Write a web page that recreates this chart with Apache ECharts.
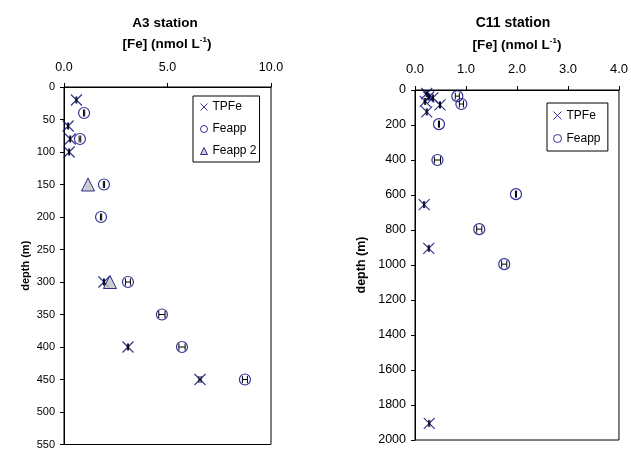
<!DOCTYPE html>
<html>
<head>
<meta charset="utf-8">
<script src="https://cdn.jsdelivr.net/npm/echarts@6/dist/echarts.min.js"></script>
<style>html,body{margin:0;padding:0;background:#fff}#c{width:631px;height:450px}</style>
</head>
<body>
<div id="c"></div>
<script>
// ---- A3 station data ----
const a3TpfeFe    = [0.6, 0.2, 0.3, 0.25, 1.93, 3.09, 6.57];
const a3TpfeDepth = [20, 60, 80, 100, 300, 400, 450];
const a3TpfeErr   = [0.02, 0.02, 0.02, 0.02, 0.02, 0.03, 0.05];
const a3FeappFe    = [0.97, 0.77, 1.93, 1.79, 3.09, 4.73, 5.7, 8.74];
const a3FeappDepth = [40, 80, 150, 200, 300, 350, 400, 450];
const a3FeappErr   = [0.03, 0.04, 0.03, 0.03, 0.12, 0.15, 0.15, 0.12];
const a3Feapp2Fe    = [1.16, 2.22];
const a3Feapp2Depth = [150, 300];
// ---- C11 station data ----
const c11TpfeFe    = [0.23, 0.27, 0.35, 0.2, 0.49, 0.23, 0.18, 0.27, 0.28];
const c11TpfeDepth = [20, 40, 45, 65, 85, 125, 655, 905, 1905];
const c11TpfeErr   = [0.01, 0.01, 0.01, 0.01, 0.01, 0.01, 0.01, 0.01, 0.01];
const c11FeappFe    = [0.83, 0.91, 0.47, 0.44, 1.98, 1.26, 1.75];
const c11FeappDepth = [35, 80, 195, 400, 595, 795, 995];
const c11FeappErr   = [0.04, 0.04, 0.01, 0.06, 0.01, 0.05, 0.05];

const NAVY = '#000080';
const FONT = 'Liberation Sans';
const XPATH = 'path://M0,0L10,10M10,0L0,10';

function pairs(xs, ys) { return xs.map((x, i) => [x, ys[i]]); }
function triples(xs, ys, es) { return xs.map((x, i) => [x, ys[i], es[i]]); }

function errRender(params, api) {
  const x = api.value(0), y = api.value(1), e = api.value(2);
  const p1 = api.coord([x - e, y]), p2 = api.coord([x + e, y]);
  const h = 3.5;
  const st = { stroke: '#000', lineWidth: 1 };
  return {
    type: 'group',
    children: [
      { type: 'line', shape: { x1: p1[0], y1: p1[1], x2: p2[0], y2: p2[1] }, style: st },
      { type: 'line', shape: { x1: p1[0], y1: p1[1] - h, x2: p1[0], y2: p1[1] + h }, style: st },
      { type: 'line', shape: { x1: p2[0], y1: p2[1] - h, x2: p2[0], y2: p2[1] + h }, style: st }
    ]
  };
}

function titleRich(fs) {
  return {
    a: { fontFamily: FONT, fontSize: fs, fontWeight: 'bold', color: '#000', lineHeight: 16 },
    s: { fontFamily: FONT, fontSize: 8, fontWeight: 'bold', color: '#000', lineHeight: 16, verticalAlign: 'top', padding: [0, 0, 6, 0] }
  };
}

function xAxisCfg(gi, max, interval, fs, margin) {
  return {
    type: 'value', gridIndex: gi, position: 'top', min: 0, max: max, interval: interval,
    axisLine: { show: true, lineStyle: { color: '#000', width: 1 } },
    axisTick: { show: true, length: 4, lineStyle: { color: '#000' } },
    axisLabel: { formatter: v => v.toFixed(1), margin: margin, fontFamily: FONT, fontSize: fs, color: '#000' },
    splitLine: { show: false }
  };
}
function yAxisCfg(gi, max, interval, gap, fs, margin) {
  return {
    type: 'value', gridIndex: gi, inverse: true, min: 0, max: max, interval: interval,
    name: 'depth (m)', nameLocation: 'middle', nameGap: gap, nameRotate: 90,
    nameTextStyle: { fontFamily: FONT, fontSize: fs, fontWeight: 'bold', color: '#000' },
    axisLine: { show: true, lineStyle: { color: '#000', width: 1 } },
    axisTick: { show: true, length: 4, lineStyle: { color: '#000' } },
    axisLabel: { formatter: v => String(v), margin: margin, fontFamily: FONT, fontSize: fs, color: '#000' },
    splitLine: { show: false }
  };
}

const xStyle = { color: 'none', borderColor: NAVY, borderWidth: 1.2 };
const oStyle = { color: 'none', borderColor: NAVY, borderWidth: 1.2 };
const tStyle = { color: '#c0c0c0', borderColor: NAVY, borderWidth: 1 };

const chart = echarts.init(document.getElementById('c'), null, { renderer: 'canvas' });
chart.setOption({
  animation: false,
  backgroundColor: '#fff',
  title: [
    { text: 'A3 station', left: 160, top: 11, textAlign: 'center',
      textStyle: { fontFamily: FONT, fontSize: 13.5, fontWeight: 'bold', color: '#000' } },
    { text: '{a|[Fe] (nmol L}{s|-1}{a|)}', left: 162, top: 31, textAlign: 'center',
      textStyle: { rich: titleRich(13.5) } },
    { text: 'C11 station', left: 508, top: 11, textAlign: 'center',
      textStyle: { fontFamily: FONT, fontSize: 14, fontWeight: 'bold', color: '#000' } },
    { text: '{a|[Fe] (nmol L}{s|-1}{a|)}', left: 512, top: 32, textAlign: 'center',
      textStyle: { rich: titleRich(13.5) } }
  ],
  grid: [
    { left: 64, top: 87, width: 207, height: 360, show: true, borderColor: '#000', borderWidth: 1, backgroundColor: 'transparent' },
    { left: 415, top: 90, width: 206, height: 350, show: true, borderColor: '#000', borderWidth: 1, backgroundColor: 'transparent' }
  ],
  xAxis: [xAxisCfg(0, 10, 5, 12.5, 13), xAxisCfg(1, 4, 1, 13, 14)],
  yAxis: [yAxisCfg(0, 550, 50, 33, 11, 9), yAxisCfg(1, 2000, 200, 47, 12.5, 9)],
  legend: [
    { data: ['TPFe', 'Feapp', 'Feapp 2'], left: 193, top: 96, orient: 'vertical',
      itemWidth: 7, itemHeight: 7, itemGap: 10, padding: [5, 3, 5, 5],
      itemStyle: { borderWidth: 1 },
      borderColor: '#000', borderWidth: 1,
      textStyle: { fontFamily: FONT, fontSize: 12, color: '#000' } },
    { data: ['TPFe ', 'Feapp '], left: 547, top: 103, orient: 'vertical',
      itemWidth: 8, itemHeight: 8, itemGap: 10, padding: [6, 4, 6, 4],
      itemStyle: { borderWidth: 1 },
      borderColor: '#000', borderWidth: 1,
      textStyle: { fontFamily: FONT, fontSize: 12, color: '#000' } }
  ],
  series: [
    { name: 'TPFe', type: 'scatter', xAxisIndex: 0, yAxisIndex: 0, symbol: XPATH, symbolSize: 11,
      itemStyle: xStyle, data: pairs(a3TpfeFe, a3TpfeDepth), z: 3 },
    { name: 'Feapp', type: 'scatter', xAxisIndex: 0, yAxisIndex: 0, symbol: 'circle', symbolSize: 11,
      itemStyle: oStyle, data: pairs(a3FeappFe, a3FeappDepth), z: 3 },
    { name: 'Feapp 2', type: 'scatter', xAxisIndex: 0, yAxisIndex: 0, symbol: 'triangle', symbolSize: 13,
      itemStyle: tStyle, data: pairs(a3Feapp2Fe, a3Feapp2Depth), z: 4 },
    { type: 'custom', xAxisIndex: 0, yAxisIndex: 0, renderItem: errRender, z: 5,
      data: triples(a3FeappFe, a3FeappDepth, a3FeappErr) },
    { type: 'custom', xAxisIndex: 0, yAxisIndex: 0, renderItem: errRender, z: 5,
      data: triples(a3TpfeFe, a3TpfeDepth, a3TpfeErr) },
    { name: 'TPFe ', type: 'scatter', xAxisIndex: 1, yAxisIndex: 1, symbol: XPATH, symbolSize: 11,
      itemStyle: xStyle, data: pairs(c11TpfeFe, c11TpfeDepth), z: 3 },
    { name: 'Feapp ', type: 'scatter', xAxisIndex: 1, yAxisIndex: 1, symbol: 'circle', symbolSize: 11,
      itemStyle: oStyle, data: pairs(c11FeappFe, c11FeappDepth), z: 3 },
    { type: 'custom', xAxisIndex: 1, yAxisIndex: 1, renderItem: errRender, z: 5,
      data: triples(c11FeappFe, c11FeappDepth, c11FeappErr) },
    { type: 'custom', xAxisIndex: 1, yAxisIndex: 1, renderItem: errRender, z: 5,
      data: triples(c11TpfeFe, c11TpfeDepth, c11TpfeErr) }
  ]
});
</script>
</body>
</html>
